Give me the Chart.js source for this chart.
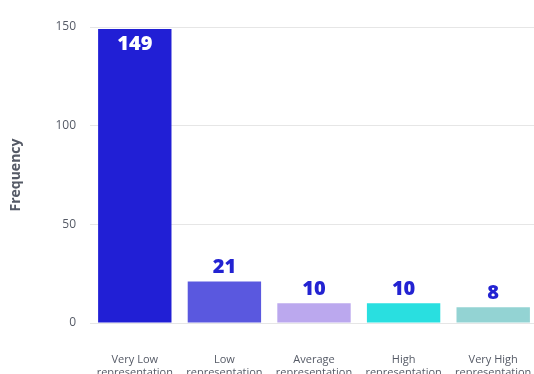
<!DOCTYPE html>
<html>
<head>
<meta charset="utf-8">
<script src="https://cdn.jsdelivr.net/npm/chart.js@4"></script>
<style>
  html, body { margin: 0; padding: 0; background: #fff; overflow: hidden; }
  #wrap { width: 538px; height: 374px; }
</style>
</head>
<body>
<div id="wrap"><canvas id="myChart"></canvas></div>
<script>
// data
let categories = [
  ['Very Low', 'representation'],
  ['Low', 'representation'],
  ['Average', 'representation'],
  ['High', 'representation'],
  ['Very High', 'representation']
];
let frequencies = [149, 21, 10, 10, 8];
let barColors = ['#211fd5', '#5a58df', '#bba8ee', '#29dfe0', '#93d3d3'];

let fontFamily = "'Open Sans', 'Noto Sans', sans-serif";

// value labels: inside the tall bar, above the rest
const valueLabels = {
  id: 'valueLabels',
  afterDatasetsDraw(chart) {
    let ctx = chart.ctx;
    let meta = chart.getDatasetMeta(0);
    ctx.save();
    ctx.font = '800 20px ' + fontFamily;
    ctx.textAlign = 'center';
    meta.data.forEach(function (bar, i) {
      let value = frequencies[i];
      let inside = (bar.base - bar.y) > 60;
      if (inside) {
        ctx.fillStyle = '#ffffff';
        ctx.textBaseline = 'top';
        ctx.fillText(value, bar.x, bar.y + 5);
      } else {
        ctx.fillStyle = '#2323d2';
        ctx.textBaseline = 'bottom';
        ctx.fillText(value, bar.x, bar.y - 4);
      }
    });
    ctx.restore();
  }
};

const data = {
  labels: categories,
  datasets: [{
    label: 'Frequency',
    data: frequencies,
    backgroundColor: barColors,
    borderWidth: 0,
    barPercentage: 0.91,
    categoryPercentage: 0.9
  }]
};

const config = {
  type: 'bar',
  data: data,
  plugins: [valueLabels],
  options: {
    responsive: true,
    maintainAspectRatio: false,
    animation: false,
    layout: { padding: { top: 27, right: 0, left: 0, bottom: 0 } },
    plugins: {
      legend: { display: false },
      tooltip: { enabled: false }
    },
    scales: {
      x: {
        grid: { display: false },
        border: { display: false },
        ticks: {
          color: '#555a66',
          font: { family: fontFamily, size: 11 },
          padding: 22,
          maxRotation: 0,
          autoSkip: false
        },
        afterFit: function (scale) {
          scale.height = 51;
          scale.paddingLeft = 0;
          scale.paddingRight = 0;
        }
      },
      y: {
        min: 0,
        max: 150,
        ticks: {
          stepSize: 50,
          color: '#555a66',
          font: { family: fontFamily, size: 12 },
          padding: 14
        },
        grid: { color: '#e6e6e6', drawTicks: false },
        border: { display: false },
        title: {
          display: true,
          text: 'Frequency',
          color: '#555a66',
          font: { family: fontFamily, size: 14, weight: 'bold' },
          padding: { top: 8, bottom: 0 }
        },
        afterFit: function (scale) { scale.width = 90; }
      }
    }
  }
};

const myChart = new Chart(document.getElementById('myChart'), config);
</script>
</body>
</html>
